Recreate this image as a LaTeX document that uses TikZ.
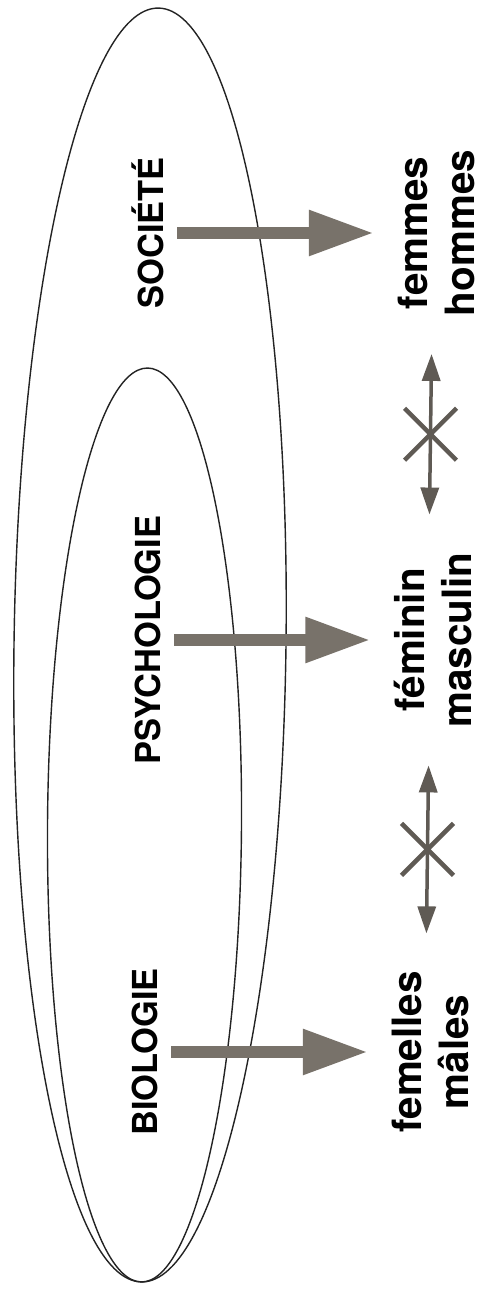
\documentclass[tikz,border=0pt]{standalone}
\usepackage{fontspec}
\setmainfont{TeX Gyre Heros}
\usepackage{tikz}
\usetikzlibrary{arrows.meta,shapes.misc}

\begin{document}
\begin{tikzpicture}[x=0.02cm, y=0.02cm, every node/.style={font=\bfseries}]
		% Define colors
		\definecolor{arrowgray}{RGB}{120, 114, 106}
		\definecolor{linkgray}{RGB}{95, 90, 84}
		\definecolor{ringline}{RGB}{35, 35, 35}

		% Styles
		\tikzstyle{domain_label} = [rotate=90, anchor=base, font=\bfseries\fontsize{19.6}{23}\selectfont]
		\tikzstyle{pair_label} = [rotate=90, align=center, inner sep=2pt, font=\bfseries\fontsize{23}{26.7}\selectfont]
		\tikzstyle{ring} = [draw=ringline, line width=0.8pt]
		\tikzstyle{big_arrow} = [draw=arrowgray, line width=0.24cm, -{Triangle[length=1.3cm, width=0.86cm]}, shorten <=0.15cm, shorten >=0.4cm]
		\tikzstyle{no_link} = [draw=linkgray, line width=0.07cm, {Triangle[length=0.54cm, width=0.36cm]}-{Triangle[length=0.54cm, width=0.36cm]}, shorten <=0.68cm, shorten >=0.68cm]
		\tikzstyle{cross_mark} = [cross out, draw=linkgray, line width=0.09cm, minimum size=0.95cm, inner sep=0pt]

		% Page frame
		\useasboundingbox (0,0) rectangle (481,1289);

		% Nested ellipses (society contains psychology contains biology)
		\draw[ring, rotate around={-0.76:(150,644)}] (150,644) ellipse [x radius=136, y radius=637];
		\draw[ring, rotate around={-0.38:(144.5,464)}] (144.5,464) ellipse [x radius=97, y radius=457];

		% Domain labels
		\node[domain_label] (societe) at (163, 1056) {SOCIÉTÉ};
		\node[domain_label] (psycho) at (160, 649) {PSYCHOLOGIE};
		\node[domain_label] (bio) at (157, 237) {BIOLOGIE};

		% Pairs on the right
		\node[pair_label] (femmes) at (436, 1056) {femmes\\hommes};
		\node[pair_label] (feminin) at (433, 649) {féminin\\masculin};
		\node[pair_label] (femelles) at (430, 237) {femelles\\mâles};

		% Arrows from domains to pairs
		\draw[big_arrow] (societe) -- (femmes);
		\draw[big_arrow] (psycho) -- (feminin);
		\draw[big_arrow] (bio) -- (femelles);

		% Crossed-out double arrows between pairs
		\draw[no_link] ([xshift=-0.08cm]femmes.west) -- ([xshift=-0.08cm]feminin.east);
		\path ([xshift=-0.08cm]femmes.west) -- node[cross_mark] (cross1) {} ([xshift=-0.08cm]feminin.east);
		\draw[no_link] ([xshift=-0.08cm]feminin.west) -- ([xshift=-0.08cm]femelles.east);
		\path ([xshift=-0.08cm]feminin.west) -- node[cross_mark] (cross2) {} ([xshift=-0.08cm]femelles.east);

	\end{tikzpicture}
\end{document}
